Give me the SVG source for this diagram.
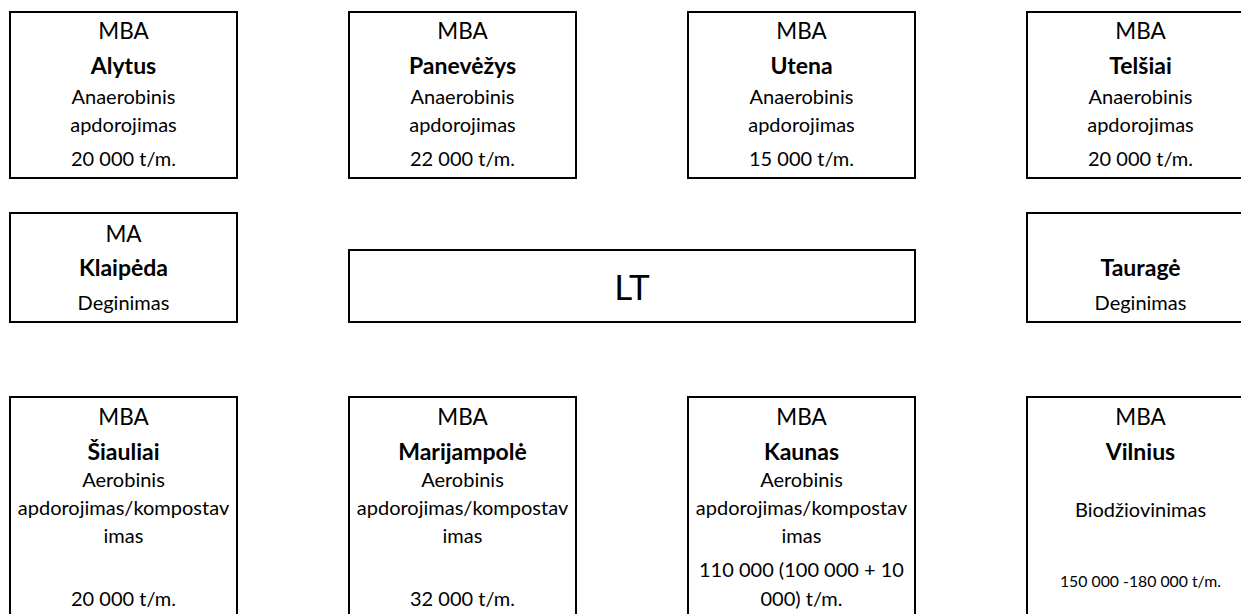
<svg xmlns="http://www.w3.org/2000/svg" width="1241" height="614" viewBox="0 0 1241 614">
<style>
rect.b{fill:#fff;stroke:#000;stroke-width:2}
text{font-family:Lato,"Open Sans","Liberation Sans",sans-serif;fill:#000;text-anchor:middle}
.t{font-size:22.5px}
.n{font-size:23px;font-weight:bold}
.s{font-size:20px}
.x{font-size:15.8px}
.lt{font-size:35px}
</style>
<rect width="1241" height="614" fill="#fff"/>
<g id="alytus"><rect class="b" x="10" y="12" width="227" height="166"/>
<text class="t" x="123.5" y="39">MBA</text><text class="n" x="123.5" y="74">Alytus</text>
<text class="s" x="123.5" y="104">Anaerobinis</text><text class="s" x="123.5" y="132">apdorojimas</text><text class="s" x="123.5" y="166">20 000 t/m.</text></g>
<g id="panevezys"><rect class="b" x="349" y="12" width="227" height="166"/>
<text class="t" x="462.5" y="39">MBA</text><text class="n" x="462.5" y="74">Panevėžys</text>
<text class="s" x="462.5" y="104">Anaerobinis</text><text class="s" x="462.5" y="132">apdorojimas</text><text class="s" x="462.5" y="166">22 000 t/m.</text></g>
<g id="utena"><rect class="b" x="688" y="12" width="227" height="166"/>
<text class="t" x="801.5" y="39">MBA</text><text class="n" x="801.5" y="74">Utena</text>
<text class="s" x="801.5" y="104">Anaerobinis</text><text class="s" x="801.5" y="132">apdorojimas</text><text class="s" x="801.5" y="166">15 000 t/m.</text></g>
<g id="telsiai"><rect class="b" x="1027" y="12" width="227" height="166"/>
<text class="t" x="1140.5" y="39">MBA</text><text class="n" x="1140.5" y="74">Telšiai</text>
<text class="s" x="1140.5" y="104">Anaerobinis</text><text class="s" x="1140.5" y="132">apdorojimas</text><text class="s" x="1140.5" y="166">20 000 t/m.</text></g>
<g id="klaipeda"><rect class="b" x="10" y="213" width="227" height="109"/>
<text class="t" x="123.5" y="242">MA</text><text class="n" x="123.5" y="276">Klaipėda</text>
<text class="s" x="123.5" y="310">Deginimas</text></g>
<g id="lt"><rect class="b" x="349" y="250" width="566" height="72"/>
<text class="lt" x="632" y="300">LT</text></g>
<g id="taurage"><rect class="b" x="1027" y="213" width="227" height="109"/>
<text class="n" x="1140.5" y="276">Tauragė</text>
<text class="s" x="1140.5" y="310">Deginimas</text></g>
<g id="siauliai"><rect class="b" x="10" y="397" width="227" height="240"/>
<text class="t" x="123.5" y="425">MBA</text><text class="n" x="123.5" y="460">Šiauliai</text>
<text class="s" x="123.5" y="487">Aerobinis</text><text class="s" x="123.5" y="515">apdorojimas/kompostav</text><text class="s" x="123.5" y="543">imas</text>
<text class="s" x="123.5" y="606">20 000 t/m.</text></g>
<g id="marijampole"><rect class="b" x="349" y="397" width="227" height="240"/>
<text class="t" x="462.5" y="425">MBA</text><text class="n" x="462.5" y="460">Marijampolė</text>
<text class="s" x="462.5" y="487">Aerobinis</text><text class="s" x="462.5" y="515">apdorojimas/kompostav</text><text class="s" x="462.5" y="543">imas</text>
<text class="s" x="462.5" y="606">32 000 t/m.</text></g>
<g id="kaunas"><rect class="b" x="688" y="397" width="227" height="240"/>
<text class="t" x="801.5" y="425">MBA</text><text class="n" x="801.5" y="460">Kaunas</text>
<text class="s" x="801.5" y="487">Aerobinis</text><text class="s" x="801.5" y="515">apdorojimas/kompostav</text><text class="s" x="801.5" y="543">imas</text>
<text class="s" x="801.5" y="577">110 000 (100 000 + 10</text><text class="s" x="801.5" y="606">000) t/m.</text></g>
<g id="vilnius"><rect class="b" x="1027" y="397" width="227" height="240"/>
<text class="t" x="1140.5" y="425">MBA</text><text class="n" x="1140.5" y="460">Vilnius</text>
<text class="s" x="1140.5" y="517">Biodžiovinimas</text>
<text class="x" x="1140.5" y="587">150 000 -180 000 t/m.</text></g>
<g id="connectors"></g>
</svg>
